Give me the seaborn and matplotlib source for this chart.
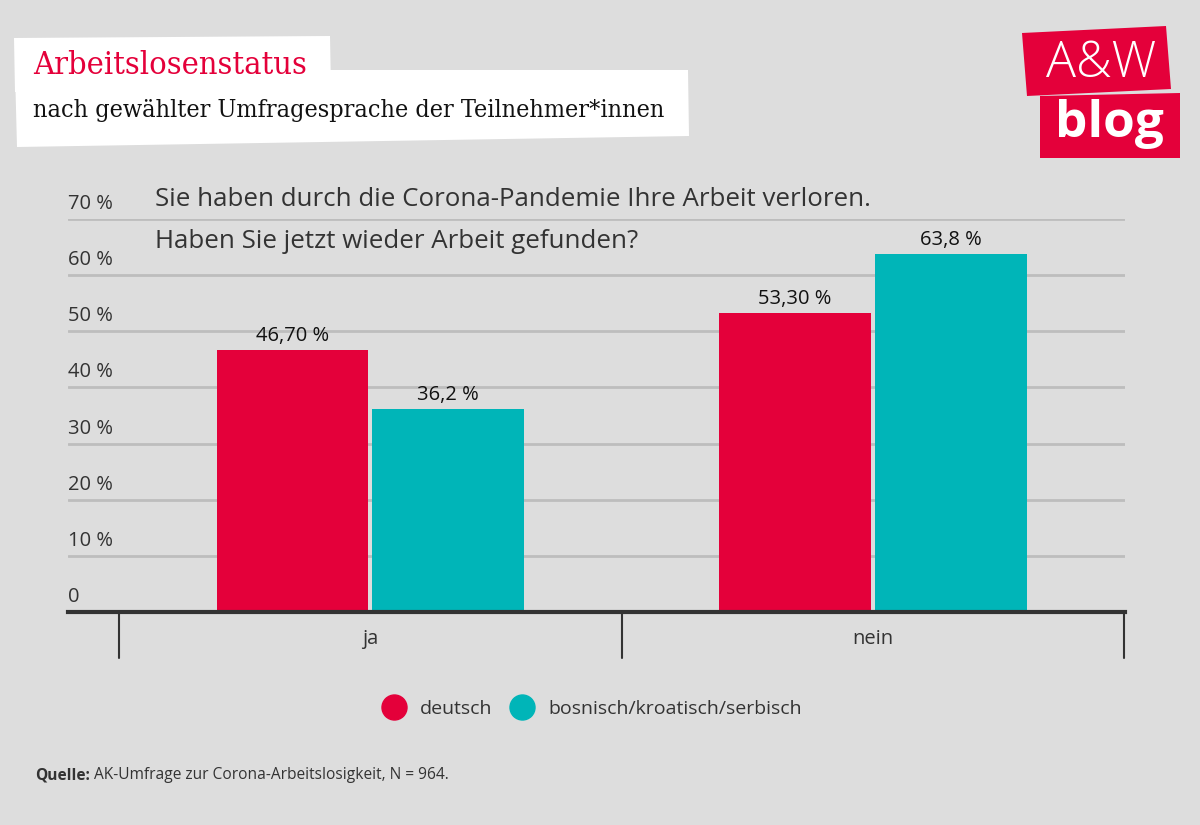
import matplotlib
matplotlib.use("Agg")
import matplotlib.pyplot as plt
import seaborn as sns
import pandas as pd
from matplotlib.patches import Polygon
from matplotlib.lines import Line2D

# data
antworten = ["ja", "nein"]
sprachen = ["deutsch", "bosnisch/kroatisch/serbisch"]
deutsch = [46.7, 53.3]
bks = [36.2, 63.8]
labels_deutsch = ["46,70 %", "53,30 %"]
labels_bks = ["36,2 %", "63,8 %"]
y_ticks = [0, 10, 20, 30, 40, 50, 60, 70]
y_ticklabels = ["0", "10 %", "20 %", "30 %", "40 %", "50 %", "60 %", "70 %"]

red = "#E4003A"
teal = "#00B5B8"
bg = "#DDDDDD"
txt = "#333333"

df = pd.DataFrame({
    "Antwort": antworten * 2,
    "Sprache": [sprachen[0]] * 2 + [sprachen[1]] * 2,
    "Wert": deutsch + bks,
})

sns.set_theme(style="white")
plt.rcParams["font.family"] = ["Open Sans", "DejaVu Sans"]

fig = plt.figure(figsize=(12, 8.25), dpi=100)
fig.patch.set_facecolor(bg)
ax = fig.add_axes([68 / 1200, 1 - 612 / 825, (1125 - 68) / 1200, (612 - 219) / 825])
ax.set_facecolor(bg)

sns.barplot(data=df, x="Antwort", y="Wert", hue="Sprache", palette=[red, teal],
            width=0.62, gap=0.025, ax=ax, legend=False, saturation=1, linewidth=0)

ax.set_xlim(-0.602, 1.502)
ax.set_ylim(0, 70)
ax.set_yticks(y_ticks)
ax.set_yticklabels([])
ax.tick_params(axis="y", length=0)
for v, lab in zip(y_ticks, y_ticklabels):
    ax.text(-0.602, v + 0.9, lab, ha="left", va="bottom", fontsize=14.5, color=txt,
            fontstretch="normal")
ax.grid(axis="y", color="#BDBDBD", linewidth=2)
ax.set_axisbelow(True)
for s in ["top", "right", "left"]:
    ax.spines[s].set_visible(False)
ax.spines["bottom"].set_color("#333333")
ax.spines["bottom"].set_linewidth(3)

ax.set_xticks([0, 1])
ax.set_xticklabels(antworten, fontsize=14.5, color=txt)
ax.tick_params(axis="x", length=0, pad=12)
ax.set_xlabel("")
ax.set_ylabel("")

# category separators
for xb in [-0.5, 0.5, 1.5]:
    ax.plot([xb, xb], [0, -8.2], color="#333333", linewidth=1.5, clip_on=False)

for cont, labs in zip(ax.containers, [labels_deutsch, labels_bks]):
    ax.bar_label(cont, labels=labs, padding=2.5, fontsize=14.5, color="#111111")

ax.text(155 / 1200, 1 - 200 / 825, "Sie haben durch die Corona-Pandemie Ihre Arbeit verloren.",
        transform=fig.transFigure, fontsize=18.6, color=txt, va="center", ha="left")
ax.text(155 / 1200, 1 - 242 / 825, "Haben Sie jetzt wieder Arbeit gefunden?",
        transform=fig.transFigure, fontsize=18.6, color=txt, va="center", ha="left")

# legend
handles = [Line2D([0], [0], marker="o", linestyle="", markersize=18, markerfacecolor=c,
                  markeredgecolor=c) for c in [red, teal]]
fig.legend(handles, sprachen, loc="center", bbox_to_anchor=(588 / 1200, 1 - 709 / 825),
           ncol=2, frameon=False, fontsize=14, labelcolor=txt, handletextpad=0.35,
           columnspacing=0.5)

# title boxes
def fig_poly(pts, color):
    p = Polygon([(x / 1200, 1 - y / 825) for x, y in pts], closed=True,
                transform=fig.transFigure, facecolor=color, edgecolor="none")
    fig.patches.append(p)

fig_poly([(14, 38), (330, 36), (331, 90), (15, 92)], "white")
fig_poly([(15, 70), (688, 70), (689, 136), (17, 147)], "white")
fig.text(33 / 1200, 1 - 65 / 825, "Arbeitslosenstatus", fontsize=23.3, color=red,
         family=["DejaVu Serif"], fontstretch="condensed", va="center", ha="left")
fig.text(33 / 1200, 1 - 110 / 825, "nach gewählter Umfragesprache der Teilnehmer*innen",
         fontsize=18, color="#111111", family=["DejaVu Serif"], fontstretch="condensed",
         va="center", ha="left")

# logo
fig_poly([(1022, 33), (1166, 26), (1171, 89), (1027, 96)], red)
fig_poly([(1040, 96), (1180, 93), (1180, 158), (1040, 158)], red)
fig.text(1101 / 1200, 1 - 64 / 825, "A&W", fontsize=36, color="white", ha="center",
         va="center", fontweight="light", family=["Open Sans", "DejaVu Sans"])
fig.text(1109 / 1200, 1 - 124 / 825, "blog", fontsize=37, color="white", ha="center",
         va="center", fontweight="bold", family=["Open Sans", "DejaVu Sans"])

# source
q = fig.text(35 / 1200, 1 - 775 / 825, "Quelle:", fontsize=11.2, color=txt,
             fontweight="bold", va="center", ha="left")
ax.annotate("AK-Umfrage zur Corona-Arbeitslosigkeit, N = 964.", xy=(1, 0.5), xycoords=q,
            xytext=(3, 0), textcoords="offset points", fontsize=11.2, color=txt,
            va="center", ha="left", annotation_clip=False)

fig.savefig("out.png", dpi=100, facecolor=bg)
